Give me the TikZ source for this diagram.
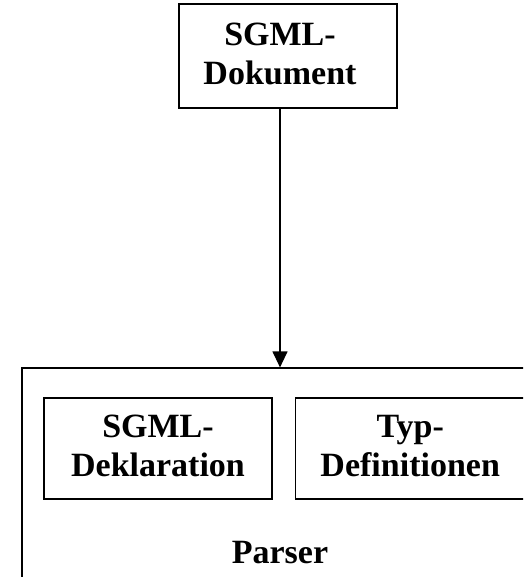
\documentclass[tikz,border=0pt]{standalone}
\usepackage{fontspec}
\setmainfont{Liberation Serif}
\usepackage{tikz}
\usetikzlibrary{arrows.meta,positioning}
\tikzset{
  cmp/.style={draw=black, line width=1.2pt, fill=white, inner sep=0pt},
  zone/.style={draw=black, line width=1.2pt, inner sep=0pt},
  arr/.style={-{Triangle[width=15pt,length=16pt]}, line width=1.2pt, draw=black},
  lbl/.style={font=\fontsize{34}{38.5}\selectfont\bfseries, align=center, inner sep=0pt},
}

\begin{document}
\begin{tikzpicture}[x=1pt, y=-1pt]

\useasboundingbox (0,0) rectangle (523,577);
\clip (0,0) rectangle (523,577);

%% =====================================================================
%% Document
%% =====================================================================
\node[cmp, minimum width=218pt, minimum height=104pt] (doc) at (288,56) {};
\node[lbl] (doclbl) at (280,54) {SGML-\\Dokument};

%% =====================================================================
%% Parser (frame runs off the right and bottom edge)
%% =====================================================================
\node[zone, minimum width=516pt, minimum height=224pt] (parser) at (280,480) {};
\node[lbl, anchor=base] (parserlbl) at (280,563) {Parser};

\node[cmp, minimum width=228pt, minimum height=101pt] (decl) at (158,448.5) {};
\node[lbl] (decllbl) at (158,446) {SGML-\\Deklaration};
\node[cmp, minimum width=230pt, minimum height=101pt, right=22pt of decl] (dtd) {};
\node[lbl] (dtdlbl) at (dtd |- decllbl) {Typ-\\Definitionen};

\draw[arr] (doclbl |- doc.south) -- (doclbl |- parser.north);

\end{tikzpicture}
\end{document}
